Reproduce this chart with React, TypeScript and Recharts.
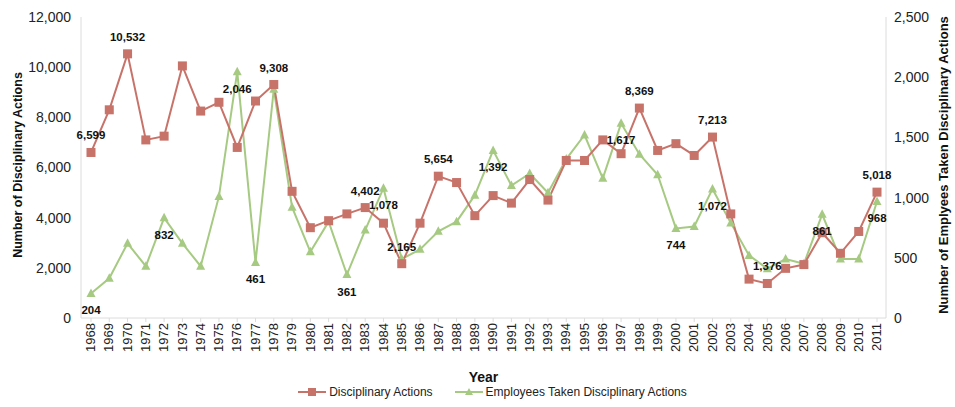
import { LineChart, XAxis, YAxis, Line, Legend, LabelList } from "recharts";

const years = [
  "1968", "1969", "1970", "1971", "1972", "1973", "1974", "1975", "1976", "1977", "1978",
  "1979", "1980", "1981", "1982", "1983", "1984", "1985", "1986", "1987", "1988", "1989",
  "1990", "1991", "1992", "1993", "1994", "1995", "1996", "1997", "1998", "1999", "2000",
  "2001", "2002", "2003", "2004", "2005", "2006", "2007", "2008", "2009", "2010", "2011",
];

const disciplinaryActions = [
  6599, 8300, 10532, 7100, 7250, 10050, 8250, 8600, 6800, 8650, 9308,
  5050, 3600, 3880, 4150, 4402, 3780, 2165, 3780, 5654, 5400, 4080,
  4880, 4580, 5520, 4700, 6280, 6280, 7100, 6550, 8369, 6680, 6950,
  6480, 7213, 4150, 1550, 1376, 1980, 2130, 3400, 2580, 3450, 5018,
];

const employeesDisciplined = [
  204, 330, 620, 430, 832, 620, 430, 1010, 2046, 461, 1900,
  920, 550, 800, 361, 730, 1078, 490, 570, 720, 800, 1020,
  1392, 1100, 1200, 1040, 1320, 1520, 1160, 1617, 1360, 1190, 744,
  760, 1072, 790, 520, 410, 490, 450, 861, 490, 490, 968,
];

// years whose values get a printed label
const actionLabelYears = ["1968", "1970", "1978", "1983", "1985", "1987", "1998", "2002", "2005", "2011"];
const employeeLabelYears = ["1968", "1972", "1976", "1977", "1982", "1984", "1990", "1997", "2000", "2002", "2008", "2011"];

const leftTicks = [0, 2000, 4000, 6000, 8000, 10000, 12000];
const rightTicks = [0, 500, 1000, 1500, 2000, 2500];

const RED = "#c8736a";
const GREEN = "#a6ca82";
const AXIS = "#dcdcdc";
const FONT = "'Liberation Sans', Arial, Helvetica, sans-serif";
const TITLE_Y = 165;

const data = years.map((year, i) => ({
  year,
  actions: disciplinaryActions[i],
  employees: employeesDisciplined[i],
}));

const fmt = (v: number) => v.toLocaleString("en-US");

const SquareDot = (props: any) => {
  const { cx, cy } = props;
  if (cx == null || cy == null) return null;
  return <rect x={cx - 4.5} y={cy - 4.5} width={9} height={9} fill={RED} />;
};

const TriangleDot = (props: any) => {
  const { cx, cy } = props;
  if (cx == null || cy == null) return null;
  return <path d={`M${cx},${cy - 5} L${cx + 4.5},${cy + 3.5} L${cx - 4.5},${cy + 3.5} Z`} fill={GREEN} />;
};

const makeLabel = (labelYears: string[], dy: number) => (props: any) => {
  const { x, y, value, index } = props;
  if (!labelYears.includes(years[index])) return null;
  return (
    <text
      x={x}
      y={y + dy}
      textAnchor="middle"
      dominantBaseline="central"
      fontFamily={FONT}
      fontSize={11.5}
      fontWeight="bold"
      fill="#111"
    >
      {fmt(value)}
    </text>
  );
};

// rotated axis title
const axisTitle = (text: string, size: number, x: number) => () => (
  <text
    x={x}
    y={TITLE_Y}
    transform={`rotate(-90, ${x}, ${TITLE_Y})`}
    textAnchor="middle"
    dominantBaseline="central"
    fontFamily={FONT}
    fontSize={size}
    fontWeight="bold"
    fill="#111"
  >
    {text}
  </text>
);

const LegendContent = () => (
  <div style={{ display: "flex", justifyContent: "center", gap: 22, fontFamily: FONT, fontSize: 12, color: "#222", paddingLeft: 30 }}>
    <span style={{ display: "flex", alignItems: "center" }}>
      <svg width={28} height={10} style={{ marginRight: 3 }}>
        <line x1={0} y1={5} x2={28} y2={5} stroke={RED} strokeWidth={2} />
        <rect x={10} y={1} width={8} height={8} fill={RED} />
      </svg>
      Disciplinary Actions
    </span>
    <span style={{ display: "flex", alignItems: "center" }}>
      <svg width={28} height={10} style={{ marginRight: 3 }}>
        <line x1={0} y1={5} x2={28} y2={5} stroke={GREEN} strokeWidth={2} />
        <path d="M14,1 L18,8 L10,8 Z" fill={GREEN} />
      </svg>
      Employees Taken Disciplinary Actions
    </span>
  </div>
);

export default function App() {
  return (
    <div style={{ position: "absolute", left: 0, top: 0, background: "#fff" }}>
      <LineChart width={955} height={407} data={data} margin={{ top: 17, right: 0, bottom: 0, left: 0 }}>
        <XAxis
          dataKey="year"
          interval={0}
          height={67}
          padding={{ left: 10, right: 9 }}
          stroke={AXIS}
          tickLine={{ stroke: AXIS }}
          tickSize={4}
          tick={{ angle: -90, textAnchor: "end", dx: -5, dy: -1, fill: "#222", fontSize: 13, fontFamily: FONT } as any}
          label={{ value: "Year", position: "insideBottom", offset: 3, fill: "#111", fontSize: 14, fontWeight: "bold", fontFamily: FONT }}
        />
        <YAxis
          yAxisId="left"
          domain={[0, 12000]}
          ticks={leftTicks}
          width={81}
          stroke={AXIS}
          tickLine={false}
          tickMargin={10}
          tickSize={0}
          tickFormatter={fmt}
          tick={{ fill: "#222", fontSize: 14, fontFamily: FONT }}
          label={axisTitle("Number of Disciplinary Actions", 12.5, 18)}
        />
        <YAxis
          yAxisId="right"
          orientation="right"
          domain={[0, 2500]}
          ticks={rightTicks}
          width={69}
          stroke={AXIS}
          tickLine={false}
          tickSize={0}
          tickMargin={8}
          tickFormatter={fmt}
          tick={{ fill: "#222", fontSize: 14, fontFamily: FONT }}
          label={axisTitle("Number of Emplyees Taken Disciplinary Actions", 13, 943)}
        />
        <Legend verticalAlign="bottom" height={22} content={<LegendContent />} />
        <Line
          yAxisId="right"
          dataKey="employees"
          stroke={GREEN}
          strokeWidth={2}
          dot={<TriangleDot />}
          activeDot={false}
          isAnimationActive={false}
        >
          <LabelList dataKey="employees" content={makeLabel(employeeLabelYears, 17)} />
        </Line>
        <Line
          yAxisId="left"
          dataKey="actions"
          stroke={RED}
          strokeWidth={2}
          dot={<SquareDot />}
          activeDot={false}
          isAnimationActive={false}
        >
          <LabelList dataKey="actions" content={makeLabel(actionLabelYears, -17)} />
        </Line>
      </LineChart>
    </div>
  );
}
